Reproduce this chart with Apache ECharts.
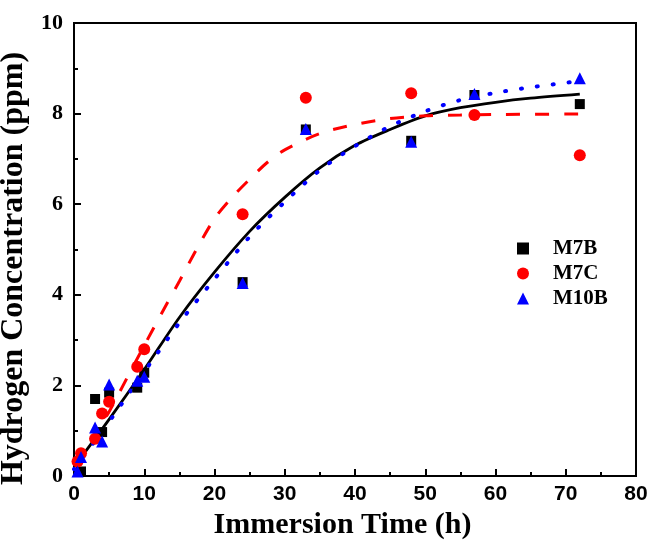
<!DOCTYPE html>
<html>
<head>
<meta charset="utf-8">
<script src="https://cdn.jsdelivr.net/npm/echarts@6/dist/echarts.min.js"></script>
<style>html,body{margin:0;padding:0;background:#fff}#c{width:650px;height:543px}</style>
</head>
<body>
<div id="c"></div>
<script>
// Measured points
const m7bTime = [1, 3, 4, 5, 9, 10, 24, 33, 48, 57, 72];
const m7bConc = [0.1, 1.7, 0.97, 1.84, 1.95, 2.28, 4.28, 7.65, 7.4, 8.41, 8.21];
const m7cTime = [0.5, 1, 3, 4, 5, 9, 10, 24, 33, 48, 57, 72];
const m7cConc = [0.32, 0.5, 0.82, 1.38, 1.64, 2.41, 2.8, 5.78, 8.35, 8.45, 7.97, 7.08];
const m10bTime = [0.5, 1, 3, 4, 5, 9, 10, 24, 33, 48, 57, 72];
const m10bConc = [0.1, 0.42, 1.07, 0.76, 2.02, 2.1, 2.19, 4.26, 7.66, 7.38, 8.43, 8.78];

// Fitted curves
const fitBTime = [0, 5, 10, 15, 20, 25, 30, 35, 40, 45, 50, 55, 60, 65, 72];
const fitBConc = [0.2, 1.25, 2.35, 3.5, 4.5, 5.4, 6.15, 6.8, 7.3, 7.65, 7.95, 8.13, 8.25, 8.34, 8.43];
const fitCTime = [0, 2.5, 5, 7.5, 10, 12.5, 15, 17.5, 20, 22.5, 25, 27.5, 30, 35, 40, 45, 50, 55, 60, 72];
const fitCConc = [0.25, 0.8, 1.42, 2.15, 2.88, 3.6, 4.3, 5.02, 5.68, 6.15, 6.55, 6.92, 7.2, 7.56, 7.76, 7.89, 7.95, 7.97, 7.98, 7.99];
const fitB10Time = [0, 5, 10, 15, 20, 25, 30, 35, 40, 45, 50, 55, 60, 65, 72];
const fitB10Conc = [0.15, 1.2, 2.3, 3.38, 4.35, 5.28, 6.05, 6.75, 7.28, 7.72, 8.05, 8.3, 8.46, 8.58, 8.72];

const xTicks = [0, 10, 20, 30, 40, 50, 60, 70, 80];
const yTicks = [0, 2, 4, 6, 8, 10];

const zip = (a, b) => a.map((v, i) => [v, b[i]]);
const serif = '"Liberation Serif", "Times New Roman", serif';
const sans = '"Liberation Sans", Arial, sans-serif';

const chart = echarts.init(document.getElementById('c'));
chart.setOption({
  animation: false,
  backgroundColor: '#fff',
  grid: { left: 74, right: 14, top: 23, bottom: 67, show: true, borderColor: '#000', borderWidth: 2,
          containLabel: false, outerBoundsMode: 'none' },
  xAxis: {
    type: 'value', min: xTicks[0], max: xTicks[xTicks.length - 1], interval: 10,
    name: 'Immersion Time (h)', nameLocation: 'middle', nameGap: 34,
    nameTextStyle: { fontFamily: serif, fontWeight: 'bold', fontSize: 30, color: '#000', padding: [0, 25, 0, 0] },
    axisLine: { lineStyle: { color: '#000', width: 2 } },
    axisTick: { inside: true, length: 7, lineStyle: { color: '#000', width: 2 } },
    minorTick: { show: true, splitNumber: 2, length: 4, lineStyle: { color: '#000', width: 2 } },
    splitLine: { show: false },
    axisLabel: { fontFamily: sans, fontWeight: 'bold', fontSize: 21, color: '#000', margin: 8 }
  },
  yAxis: {
    type: 'value', min: yTicks[0], max: yTicks[yTicks.length - 1], interval: 2,
    name: 'Hydrogen Concentration (ppm)', nameLocation: 'middle', nameGap: 34,
    nameTextStyle: { fontFamily: serif, fontWeight: 'bold', fontSize: 32, color: '#000', padding: [0, 38, 0, 0] },
    axisLine: { lineStyle: { color: '#000', width: 2 } },
    axisTick: { inside: true, length: 7, lineStyle: { color: '#000', width: 2 } },
    minorTick: { show: true, splitNumber: 2, length: 4, lineStyle: { color: '#000', width: 2 } },
    splitLine: { show: false },
    axisLabel: { fontFamily: serif, fontWeight: 'bold', fontSize: 22, color: '#000', margin: 11 }
  },
  legend: {
    orient: 'vertical', left: 512, top: 233, itemWidth: 12, itemHeight: 12, itemGap: 4,
    data: [
      { name: 'M7B', icon: 'rect' },
      { name: 'M7C', icon: 'circle' },
      { name: 'M10B', icon: 'triangle' }
    ],
    formatter: n => '{a|' + n + '}',
    textStyle: { rich: { a: { fontFamily: serif, fontWeight: 'bold', fontSize: 21, color: '#000', padding: [0, 0, 0, 19] } } }
  },
  series: [
    { name: 'fitB', type: 'line', data: zip(fitBTime, fitBConc), smooth: 0.3, showSymbol: false, symbol: 'none',
      lineStyle: { color: '#000', width: 2.8 }, z: 2 },
    { name: 'fitC', type: 'line', data: zip(fitCTime, fitCConc), smooth: 0.3, showSymbol: false, symbol: 'none',
      lineStyle: { color: '#ff0000', width: 3, type: [14, 15] }, z: 2 },
    { name: 'fitB10', type: 'line', data: zip(fitB10Time, fitB10Conc), smooth: 0.3, showSymbol: false, symbol: 'none',
      lineStyle: { color: '#0000ff', width: 4, type: [1, 15], cap: 'round' }, z: 3 },
    { name: 'M7B', type: 'scatter', data: zip(m7bTime, m7bConc), symbol: 'rect', symbolSize: 10,
      itemStyle: { color: '#000', opacity: 1 }, z: 4 },
    { name: 'M7C', type: 'scatter', data: zip(m7cTime, m7cConc), symbol: 'circle', symbolSize: 12,
      itemStyle: { color: '#ff0000', opacity: 1 }, z: 5 },
    { name: 'M10B', type: 'scatter', data: zip(m10bTime, m10bConc), symbol: 'triangle', symbolSize: 12,
      itemStyle: { color: '#0000ff', opacity: 1 }, z: 6 }
  ]
});
</script>
</body>
</html>
